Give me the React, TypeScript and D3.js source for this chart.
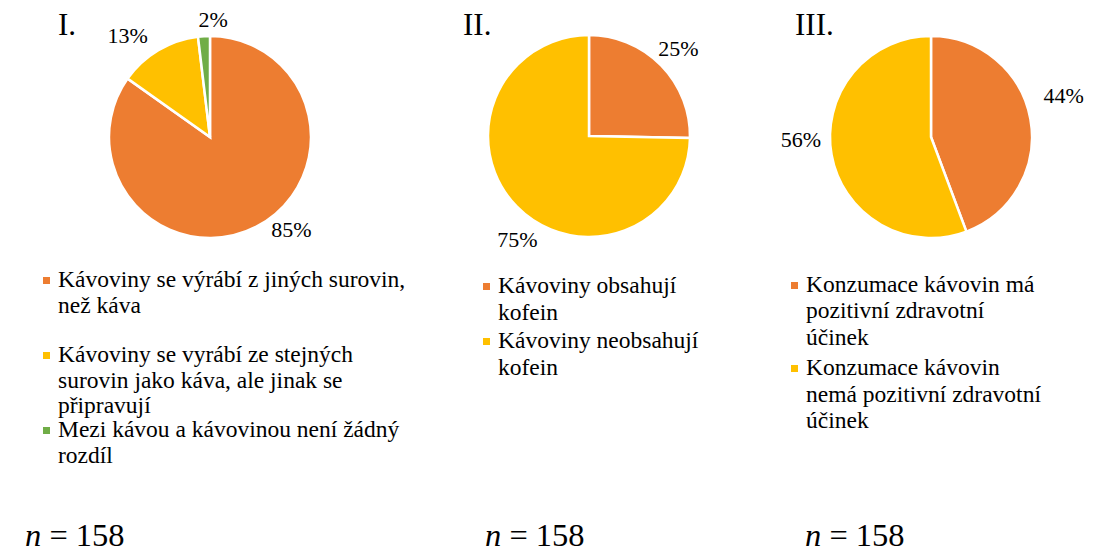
import React, { useEffect } from "react";
import * as d3 from "d3";

// survey answers, n = 158 respondents per question
const titles = ["I.", "II.", "III."];

const labelsI = [
  "Kávoviny se výrábí z jiných surovin, než káva",
  "Kávoviny se vyrábí ze stejných surovin jako káva, ale jinak se připravují",
  "Mezi kávou a kávovinou není žádný rozdíl",
];
const countsI = [134, 21, 3];

const labelsII = ["Kávoviny obsahují kofein", "Kávoviny neobsahují kofein"];
const countsII = [40, 118];

const labelsIII = [
  "Konzumace kávovin má pozitivní zdravotní účinek",
  "Konzumace kávovin nemá pozitivní zdravotní účinek",
];
const countsIII = [70, 88];

const sampleSize = 158;

const colors = ["#ED7D31", "#FFC000", "#70AD47"];
const font = "Liberation Serif, Tinos, DejaVu Serif, serif";

type Panel = {
  title: string;
  counts: number[];
  cx: number;
  cy: number;
  titleX: number;
  // where the data labels sit: [angle in degrees from top, distance]
  labelAt: [number, number][];
  legendX: number;
  // legend text is wrapped the way the original wraps it
  legend: { lines: string[]; y: number[] }[];
  nX: number;
};

const panels: Panel[] = [
  {
    title: titles[0],
    counts: countsI,
    cx: 210,
    cy: 137,
    titleX: 58,
    labelAt: [
      [138.6, 123],
      [321, 131],
      [1.5, 118],
    ],
    legendX: 43,
    legend: [
      { lines: ["Kávoviny se výrábí z jiných surovin,", "než káva"], y: [287, 313] },
      {
        lines: ["Kávoviny se vyrábí ze stejných", "surovin jako káva, ale jinak se", "připravují"],
        y: [362, 388, 413],
      },
      { lines: ["Mezi kávou a kávovinou není žádný", "rozdíl"], y: [437, 463] },
    ],
    nX: 25,
  },
  {
    title: titles[1],
    counts: countsII,
    cx: 589,
    cy: 136,
    titleX: 463,
    labelAt: [
      [45.7, 125],
      [214.6, 126],
    ],
    legendX: 483,
    legend: [
      { lines: ["Kávoviny obsahují", "kofein"], y: [293, 320] },
      { lines: ["Kávoviny neobsahují", "kofein"], y: [348, 375] },
    ],
    nX: 485,
  },
  {
    title: titles[2],
    counts: countsIII,
    cx: 931,
    cy: 137,
    titleX: 795,
    labelAt: [
      [72.7, 139],
      [269, 130],
    ],
    legendX: 791,
    legend: [
      { lines: ["Konzumace kávovin má", "pozitivní zdravotní", "účinek"], y: [292, 318, 345] },
      { lines: ["Konzumace kávovin", "nemá pozitivní zdravotní", "účinek"], y: [375, 402, 428] },
    ],
    nX: 805,
  },
];

const radius = 101;

const PiePanel = ({ p }: { p: Panel }) => {
  const total = d3.sum(p.counts);
  const arcs = d3
    .pie<number>()
    .sort(null)
    .value((d) => d)(p.counts);
  const arc = d3.arc<d3.PieArcDatum<number>>().innerRadius(0).outerRadius(radius);
  const txt = { fontFamily: font, fill: "#000" };

  return (
    <g>
      <text x={p.titleX} y={35} fontSize={31} style={txt}>
        {p.title}
      </text>
      <g transform={`translate(${p.cx},${p.cy})`}>
        {arcs.map((a, i) => (
          <path key={i} d={arc(a) || ""} fill={colors[i]} stroke="#fff" strokeWidth={2.5} />
        ))}
        {arcs.map((a, i) => {
          const [deg, dist] = p.labelAt[i];
          const t = (deg * Math.PI) / 180;
          return (
            <text
              key={i}
              x={dist * Math.sin(t)}
              y={-dist * Math.cos(t)}
              textAnchor="middle"
              dominantBaseline="central"
              fontSize={22}
              style={txt}
            >
              {d3.format(".0%")(a.value / total)}
            </text>
          );
        })}
      </g>
      {p.legend.map((item, i) => (
        <g key={i}>
          <rect x={p.legendX} y={item.y[0] - 10} width={7} height={7} fill={colors[i]} />
          {item.lines.map((line, j) => (
            <text key={j} x={p.legendX + 15} y={item.y[j]} fontSize={23.5} style={txt}>
              {line}
            </text>
          ))}
        </g>
      ))}
      <text x={p.nX} y={546} fontSize={32.5} style={txt}>
        <tspan fontStyle="italic">n</tspan>
        <tspan> = {sampleSize}</tspan>
      </text>
    </g>
  );
};

export default function App() {
  useEffect(() => {
    document.body.style.margin = "0";
  }, []);

  return (
    <svg width={1093} height={552} style={{ display: "block", background: "#fff" }}>
      {panels.map((p, i) => (
        <PiePanel key={i} p={p} />
      ))}
    </svg>
  );
}
